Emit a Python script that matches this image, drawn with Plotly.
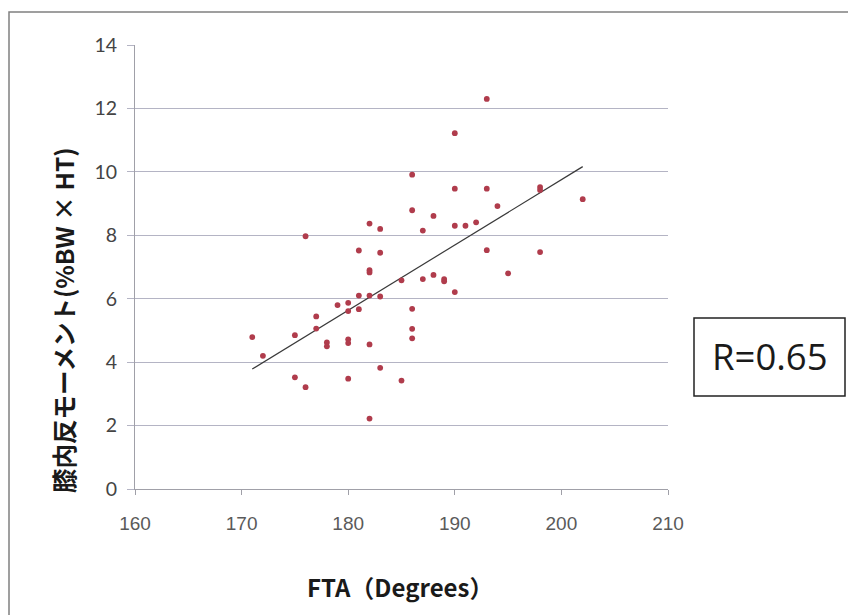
import numpy as np
import plotly.graph_objects as go

# FTA (degrees)
fta = [171, 172, 175, 175, 176, 176, 177, 177, 178, 178,
       179, 180, 180, 180, 180, 180, 181, 181, 181, 182,
       182, 182, 182, 182, 182, 183, 183, 183, 183, 185,
       185, 186, 186, 186, 186, 186, 187, 187, 188, 188,
       189, 189, 190, 190, 190, 190, 191, 192, 193, 193,
       193, 194, 195, 198, 198, 198, 202]
# Knee adduction moment (%BW x HT)
kam = [4.79, 4.20, 4.85, 3.52, 3.21, 7.97, 5.44, 5.06, 4.62, 4.50,
       5.80, 5.87, 5.61, 4.72, 4.60, 3.48, 7.52, 6.10, 5.67, 8.37,
       6.90, 6.83, 6.10, 4.56, 2.22, 8.20, 7.45, 6.07, 3.82, 6.58,
       3.42, 9.91, 8.79, 5.68, 5.05, 4.75, 8.15, 6.62, 8.61, 6.75,
       6.62, 6.55, 11.22, 9.47, 8.30, 6.21, 8.30, 8.41, 12.30, 9.47,
       7.53, 8.92, 6.80, 9.52, 9.43, 7.47, 9.14]

x_ticks = [160, 170, 180, 190, 200, 210]
y_ticks = [0, 2, 4, 6, 8, 10, 12, 14]
r_label = "R=0.65"
x_title = "FTA（Degrees）"
y_title = "膝内反モーメント(%BW × HT)"

# page offset (default body margin of the html page)
OFF = 8
W, H = 856 - OFF, 615 - OFF
# plot-area pixel geometry in page coordinates
L, R_, T, B = 135, 668, 45, 489

def px(x):
    return (x - L) / (R_ - L)
def py(y):
    return (B - y) / (B - T)

slope, intercept = np.polyfit(fta, kam, 1)
tx = np.array([min(fta), max(fta)])
ty = slope * tx + intercept

fig = go.Figure()
fig.add_trace(go.Scatter(x=tx, y=ty, mode="lines",
                         line=dict(color="#3a3a3a", width=1.2),
                         hoverinfo="skip", showlegend=False))
fig.add_trace(go.Scatter(x=fta, y=kam, mode="markers",
                         marker=dict(color="#b03c4c", size=5.8),
                         showlegend=False))

fig.update_layout(
    width=W, height=H,
    margin=dict(l=L - OFF, r=W - (R_ - OFF), t=T - OFF, b=H - (B - OFF)),
    paper_bgcolor="white", plot_bgcolor="white",
    xaxis=dict(range=[160, 210], tickvals=x_ticks, showgrid=False,
               showline=True, linecolor="#a0a0a8", linewidth=1,
               ticks="outside", ticklen=5, tickcolor="#a0a0a8",
               tickfont=dict(family="Liberation Sans", size=19, color="#5a5a5a"),
               ticklabelstandoff=12, zeroline=False, fixedrange=True),
    yaxis=dict(range=[0, 14], tickvals=y_ticks, showgrid=True,
               gridcolor="#b4b4c4", gridwidth=1,
               showline=True, linecolor="#a0a0a8", linewidth=1,
               ticks="outside", ticklen=7, tickcolor="#b4b4c4",
               tickfont=dict(family="Lato", size=19.5, color="#444444"),
               ticklabelstandoff=6, zeroline=False, fixedrange=True),
)

fig.add_annotation(text=f"<b>{y_title}</b>", xref="paper", yref="paper",
                   x=px(63), y=py(320), xanchor="center", yanchor="middle",
                   textangle=-90, showarrow=False,
                   font=dict(family="Noto Sans CJK JP", size=24.5, color="#1a1a1a"))
fig.add_annotation(text=f"<b>{x_title}</b>", xref="paper", yref="paper",
                   x=px(400), y=py(586), xanchor="center", yanchor="middle",
                   showarrow=False,
                   font=dict(family="Noto Sans CJK JP", size=24, color="#1a1a1a"))

# R box
fig.add_shape(type="rect", xref="paper", yref="paper",
              x0=px(694), x1=px(845), y0=py(396), y1=py(318),
              line=dict(color="#222222", width=1.5), fillcolor="white")
fig.add_annotation(text=r_label, xref="paper", yref="paper",
                   x=px(769.5), y=py(356), xanchor="center", yanchor="middle",
                   showarrow=False,
                   font=dict(family="Open Sans", size=36.5, color="#1a1a1a"))

# outer chart border
fig.add_shape(type="rect", xref="paper", yref="paper",
              x0=px(9), x1=px(880), y0=py(640), y1=py(12),
              line=dict(color="#808080", width=1.5), layer="below")

fig.write_html("out.html")
